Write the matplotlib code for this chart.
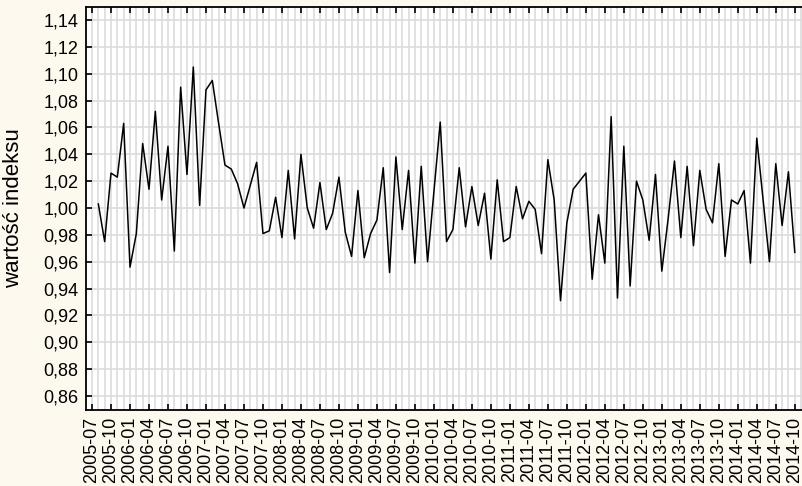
import matplotlib
matplotlib.use("Agg")
import matplotlib.pyplot as plt
from matplotlib.ticker import MultipleLocator, FuncFormatter
import numpy as np

# miesieczne wartosci indeksu, od 2005-08 do 2014-10
v2005 = [1.003, 0.975, 1.026, 1.023, 1.063]
v2006 = [0.956, 0.981, 1.048, 1.014, 1.072, 1.006, 1.046, 0.968, 1.090, 1.025, 1.105, 1.002]
v2007 = [1.088, 1.095, 1.063, 1.032, 1.029, 1.018, 1.000, 1.017, 1.034, 0.981, 0.983, 1.008]
v2008 = [0.978, 1.028, 0.977, 1.040, 1.000, 0.985, 1.019, 0.984, 0.996, 1.023, 0.982, 0.964]
v2009 = [1.013, 0.963, 0.981, 0.991, 1.030, 0.952, 1.038, 0.984, 1.028, 0.959, 1.031, 0.960]
v2010 = [1.012, 1.064, 0.975, 0.984, 1.030, 0.986, 1.016, 0.987, 1.011, 0.962, 1.021, 0.975]
v2011 = [0.978, 1.016, 0.992, 1.005, 0.999, 0.966, 1.036, 1.006, 0.931, 0.989, 1.014, 1.020]
v2012 = [1.026, 0.947, 0.995, 0.959, 1.068, 0.933, 1.046, 0.942, 1.020, 1.006, 0.976, 1.025]
v2013 = [0.953, 0.992, 1.035, 0.978, 1.031, 0.972, 1.028, 0.999, 0.989, 1.033, 0.964, 1.006]
v2014 = [1.003, 1.013, 0.959, 1.052, 1.006, 0.960, 1.033, 0.987, 1.027, 0.967]

values = v2005 + v2006 + v2007 + v2008 + v2009 + v2010 + v2011 + v2012 + v2013 + v2014

# etykiety osi x co 3 miesiace
start_year, start_month = 2005, 7
n_months = 112  # 2005-07 .. 2014-10
tick_labels = []
for m in range(0, n_months, 3):
    y = start_year + (start_month - 1 + m) // 12
    mm = (start_month - 1 + m) % 12 + 1
    tick_labels.append(f"{y}-{mm:02d}")

x = np.arange(1, len(values) + 1)

plt.rcParams['font.family'] = ['Liberation Sans', 'DejaVu Sans']
bg = '#fdf9ee'
fig = plt.figure(figsize=(8.03, 4.86), dpi=100, facecolor=bg)
ax = fig.add_axes([86 / 803, 76 / 486, 717 / 803, 403 / 486])
ax.set_facecolor('white')

ax.plot(x, values, color='black', linewidth=1.1)

ax.set_xlim(-0.95, 112.3)
ax.set_ylim(0.8496, 1.1497)

ax.xaxis.set_minor_locator(MultipleLocator(1))
ax.set_xticks(np.arange(0, n_months, 3))
ax.set_xticklabels(tick_labels, rotation=90, fontsize=13)

ax.set_yticks(np.arange(0.86, 1.1401, 0.02))
ax.yaxis.set_major_formatter(FuncFormatter(lambda v, p: f"{v:.2f}".replace('.', ',')))
ax.tick_params(axis='y', labelsize=13)

ax.grid(True, which='both', axis='x', color='#dcdcdc', linewidth=1.2)
ax.grid(True, which='major', axis='y', color='#dcdcdc', linewidth=1.2)
ax.set_axisbelow(True)

ax.tick_params(axis='x', which='major', direction='in', length=4, width=1.2,
               top=True, bottom=True, color='black', pad=5)
ax.tick_params(axis='x', which='minor', length=0)
ax.tick_params(axis='y', which='major', direction='in', length=4, width=1.2,
               left=True, right=False, color='black', pad=5.5)

for s in ['left', 'bottom', 'top']:
    ax.spines[s].set_linewidth(1.3)
    ax.spines[s].set_color('black')
ax.spines['right'].set_visible(False)

ax.set_ylabel('wartość indeksu', fontsize=16)
ax.yaxis.set_label_coords(-0.086, 0.5)

fig.savefig('out.png', dpi=100, facecolor=bg)
